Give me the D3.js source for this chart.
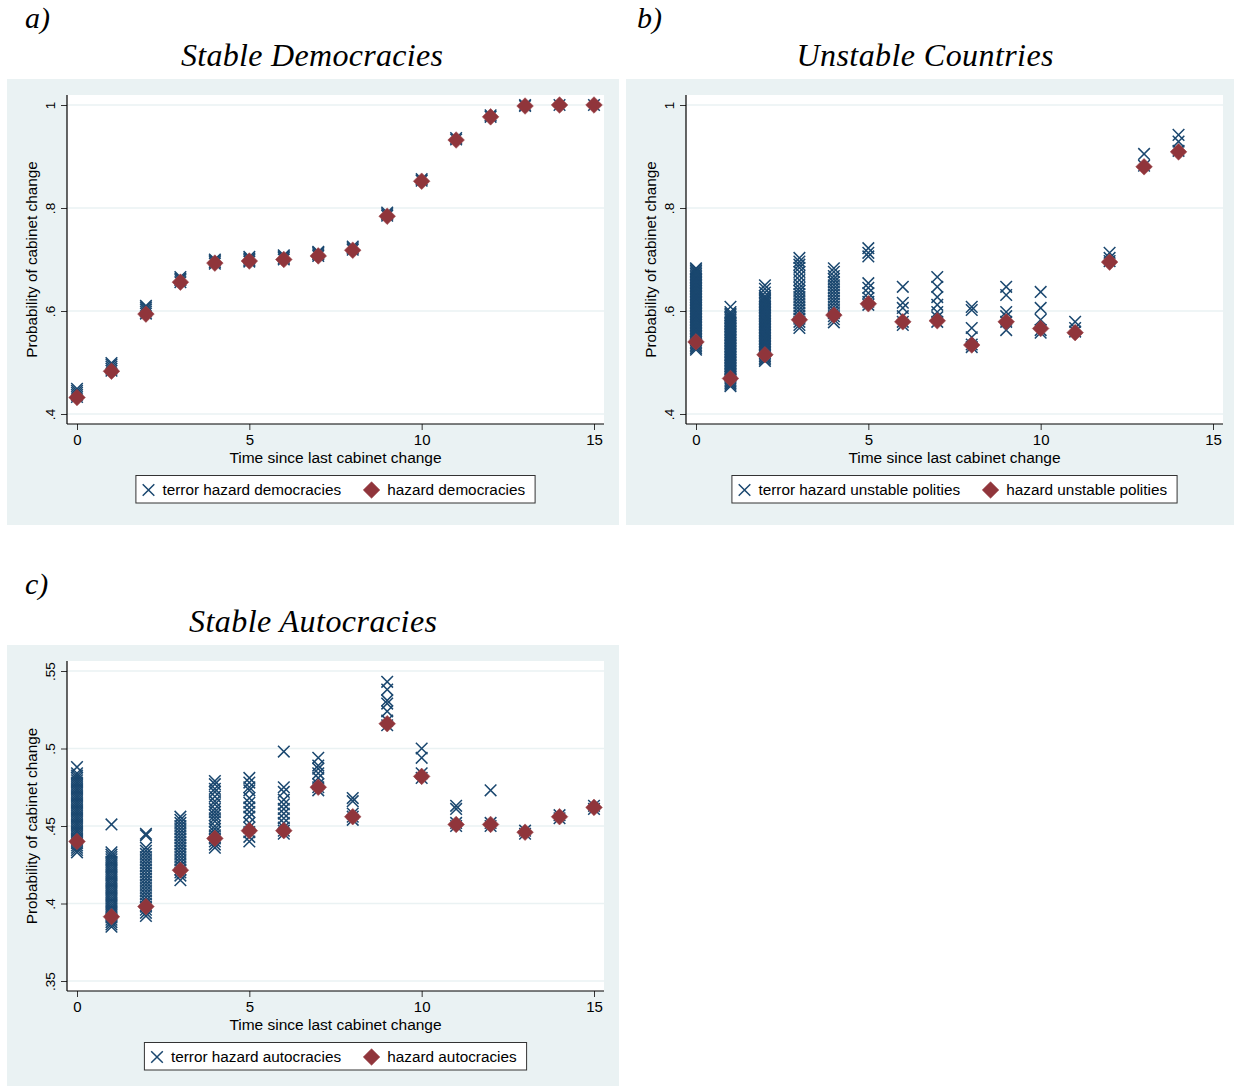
<!DOCTYPE html>
<html><head><meta charset="utf-8">
<script src="https://cdn.jsdelivr.net/npm/d3@7"></script>
<style>
body{margin:0;background:#fff}
svg{display:block}
text{font-family:"Liberation Sans",Arial,sans-serif}
</style>
</head><body>
<svg id="chart" width="1234" height="1086"></svg>
<script>
// ---------------- DATA ----------------
const times = [0,1,2,3,4,5,6,7,8,9,10,11,12,13,14,15];
const xTickValues = [0,5,10,15];
const yTicksAB = [0.4,0.6,0.8,1];
const yTicksC = [0.35,0.4,0.45,0.5,0.55];
const xAxisTitle = "Time since last cabinet change";
const yAxisTitle = "Probability of cabinet change";

// a) Stable democracies
const hazardDem = [0.432,0.483,0.594,0.656,0.693,0.697,0.700,0.707,0.718,0.784,0.852,0.932,0.977,0.998,1.0,1.0];
const terrorDem = [
  [0.433,0.437,0.441,0.445,0.449],
  [0.484,0.488,0.492,0.496,0.499],
  [0.595,0.599,0.603,0.607,0.610],
  [0.656,0.660,0.663,0.666],
  [0.692,0.695,0.698,0.700],
  [0.696,0.699,0.702,0.705],
  [0.700,0.703,0.706,0.708],
  [0.707,0.710,0.713,0.715],
  [0.719,0.722,0.725],
  [0.785,0.788,0.791],
  [0.853,0.856],
  [0.933,0.936],
  [0.977,0.980],
  [0.998,1.0],
  [1.0],
  [1.0]
];

// b) Unstable countries (times 0..14)
const hazardUnstable = [0.540,0.469,0.515,0.583,0.592,0.614,0.579,0.581,0.534,0.579,0.566,0.558,0.695,0.880,0.909];
const terrorUnstable = [
  [0.525,0.528,0.531,0.534,0.537,0.540,0.543,0.546,0.549,0.552,0.555,0.558,0.561,0.564,0.567,0.570,0.573,0.576,0.579,0.582,0.585,0.588,0.591,0.594,0.597,0.600,0.603,0.606,0.609,0.612,0.615,0.618,0.621,0.624,0.627,0.630,0.633,0.636,0.639,0.642,0.645,0.648,0.651,0.654,0.657,0.660,0.663,0.666,0.669,0.672,0.675,0.678,0.681,0.683],
  [0.454,0.457,0.460,0.463,0.466,0.469,0.472,0.475,0.478,0.481,0.484,0.487,0.490,0.493,0.496,0.499,0.502,0.505,0.508,0.511,0.514,0.517,0.520,0.523,0.526,0.529,0.532,0.535,0.538,0.541,0.544,0.547,0.550,0.553,0.556,0.559,0.562,0.565,0.568,0.571,0.574,0.577,0.580,0.583,0.586,0.589,0.592,0.595,0.598,0.608],
  [0.503,0.506,0.509,0.512,0.515,0.518,0.521,0.524,0.527,0.530,0.533,0.536,0.539,0.542,0.545,0.548,0.551,0.554,0.557,0.560,0.563,0.566,0.569,0.572,0.575,0.578,0.581,0.584,0.587,0.590,0.593,0.596,0.599,0.602,0.605,0.608,0.611,0.614,0.617,0.620,0.623,0.626,0.629,0.636,0.643,0.650],
  [0.567,0.573,0.579,0.585,0.591,0.597,0.603,0.609,0.615,0.621,0.627,0.633,0.639,0.645,0.652,0.660,0.668,0.676,0.684,0.690,0.696,0.703],
  [0.578,0.584,0.590,0.596,0.602,0.608,0.614,0.620,0.626,0.632,0.638,0.644,0.650,0.656,0.662,0.668,0.676,0.683],
  [0.722,0.713,0.706,0.654,0.645,0.635,0.625,0.618,0.612],
  [0.647,0.616,0.606,0.590,0.579,0.573],
  [0.666,0.647,0.627,0.612,0.598,0.588,0.579],
  [0.608,0.602,0.567,0.549,0.535,0.530],
  [0.647,0.631,0.598,0.590,0.579,0.563],
  [0.637,0.606,0.583,0.563,0.558],
  [0.579,0.567,0.560],
  [0.713,0.703,0.697],
  [0.905,0.882],
  [0.942,0.929,0.911]
];

// c) Stable autocracies
const hazardAuto = [0.440,0.3915,0.398,0.4215,0.442,0.447,0.447,0.475,0.456,0.516,0.482,0.451,0.451,0.446,0.456,0.462];
const terrorAuto = [
  [0.433,0.4345,0.436,0.4375,0.439,0.4405,0.442,0.4435,0.445,0.4465,0.448,0.4495,0.451,0.4525,0.454,0.4555,0.457,0.4585,0.460,0.4615,0.463,0.4645,0.466,0.4675,0.469,0.4705,0.472,0.4735,0.475,0.4765,0.478,0.4795,0.481,0.4825,0.484,0.488],
  [0.451,0.433,0.4315,0.430,0.4285,0.427,0.4255,0.424,0.4225,0.421,0.4195,0.418,0.4165,0.415,0.4135,0.412,0.4105,0.409,0.4075,0.406,0.4045,0.403,0.4015,0.400,0.3985,0.397,0.3955,0.394,0.3925,0.391,0.3895,0.388,0.3865,0.385],
  [0.445,0.444,0.436,0.434,0.432,0.430,0.428,0.426,0.424,0.422,0.420,0.418,0.416,0.414,0.412,0.410,0.408,0.406,0.404,0.402,0.400,0.398,0.396,0.394,0.392],
  [0.456,0.454,0.452,0.450,0.448,0.446,0.444,0.442,0.440,0.438,0.436,0.434,0.432,0.430,0.428,0.426,0.424,0.422,0.420,0.418,0.415],
  [0.479,0.477,0.474,0.472,0.469,0.466,0.464,0.461,0.459,0.457,0.455,0.453,0.450,0.448,0.446,0.444,0.442,0.440,0.438,0.436],
  [0.481,0.478,0.475,0.473,0.468,0.465,0.462,0.459,0.456,0.452,0.449,0.446,0.443,0.440],
  [0.498,0.475,0.472,0.467,0.464,0.461,0.458,0.455,0.452,0.449,0.447,0.445],
  [0.494,0.489,0.487,0.484,0.481,0.477,0.475,0.473],
  [0.468,0.466,0.458,0.456,0.454],
  [0.543,0.538,0.531,0.529,0.524,0.518,0.515],
  [0.500,0.494,0.484,0.481],
  [0.463,0.461,0.452,0.450],
  [0.473,0.452,0.450],
  [0.447,0.445],
  [0.457,0.455],
  [0.463,0.461]
];

const panelLetters = ["a)","b)","c)"];
const panelTitles = ["Stable Democracies","Unstable Countries","Stable Autocracies"];
const legendTerror = ["terror hazard democracies","terror hazard unstable polities","terror hazard autocracies"];
const legendHazard = ["hazard democracies","hazard unstable polities","hazard autocracies"];

// ---------------- STYLE / LAYOUT ----------------
const BG = "#eaf2f3";
const NAVY = "#1a476f";
const MAROON = "#90353b";
const svg = d3.select("#chart");
svg.append("rect").attr("width",1234).attr("height",1086).attr("fill","#fff");

const panels = [
  {letter:panelLetters[0], title:panelTitles[0], titleLen:262, letterX:25, letterY:28, titleX:312, titleY:66,
   bg:[7,79,612,446], left:67, right:604, top:95, bottom:424, yDomain:[0.4,1], yTicks:yTicksAB,
   hazard:hazardDem, terror:terrorDem, legT:legendTerror[0], legH:legendHazard[0]},
  {letter:panelLetters[1], title:panelTitles[1], titleLen:257, letterX:637, letterY:28, titleX:925, titleY:66,
   bg:[626,79,608,446], left:686, right:1223, top:95, bottom:424, yDomain:[0.4,1], yTicks:yTicksAB,
   hazard:hazardUnstable, terror:terrorUnstable, legT:legendTerror[1], legH:legendHazard[1]},
  {letter:panelLetters[2], title:panelTitles[2], titleLen:248, letterX:25, letterY:594, titleX:313, titleY:632,
   bg:[7,645,612,441], left:67, right:604, top:661, bottom:991, yDomain:[0.35,0.55], yTicks:yTicksC,
   hazard:hazardAuto, terror:terrorAuto, legT:legendTerror[2], legH:legendHazard[2]}
];

const fmt = d => d3.format(".2~f")(d).replace(/^0/,"");

function xMark(g, cx, cy, r){
  g.append("path").attr("d",`M${cx-r},${cy-r}L${cx+r},${cy+r}M${cx-r},${cy+r}L${cx+r},${cy-r}`)
    .attr("stroke",NAVY).attr("stroke-width",1.5).attr("fill","none");
}
function diamond(g, cx, cy, r){
  g.append("path").attr("d",`M${cx},${cy-r}L${cx+r},${cy}L${cx},${cy+r}L${cx-r},${cy}Z`)
    .attr("fill",MAROON).attr("stroke","#9c4449").attr("stroke-width",0.6);
}

panels.forEach(p=>{
  const g = svg.append("g");
  // titles
  g.append("text").attr("x",p.letterX).attr("y",p.letterY).text(p.letter)
    .style("font-family","'Liberation Serif','DejaVu Serif',serif").style("font-style","italic").style("font-size","30px");
  g.append("text").attr("x",p.titleX).attr("y",p.titleY).attr("text-anchor","middle")
    .attr("textLength",p.titleLen).attr("lengthAdjust","spacing").text(p.title)
    .style("font-family","'Liberation Serif','DejaVu Serif',serif").style("font-style","italic").style("font-size","32px");
  // backgrounds
  g.append("rect").attr("x",p.bg[0]).attr("y",p.bg[1]).attr("width",p.bg[2]).attr("height",p.bg[3]).attr("fill",BG);
  g.append("rect").attr("x",p.left).attr("y",p.top).attr("width",p.right-p.left).attr("height",p.bottom-p.top).attr("fill","#fff");

  const x = d3.scaleLinear().domain([0,15]).range([p.left+10, p.right-10]);
  const y = d3.scaleLinear().domain(p.yDomain).range([p.bottom-10, p.top+10]);

  // grid
  g.append("g").selectAll("line").data(p.yTicks).join("line")
    .attr("x1",p.left).attr("x2",p.right).attr("y1",d=>y(d)).attr("y2",d=>y(d))
    .attr("stroke",BG).attr("stroke-width",1.5);

  // axes
  const ya = g.append("g").attr("transform",`translate(${p.left},0)`)
    .call(d3.axisLeft(y).tickValues(p.yTicks).tickSize(6).tickSizeOuter(0).tickFormat(fmt));
  ya.select(".domain").remove();
  ya.selectAll(".tick line").attr("stroke","#333");
  ya.selectAll(".tick text").attr("transform","rotate(-90)").attr("x",0).attr("y",-12).attr("dy",0)
    .attr("text-anchor","middle").style("font-size","13.5px").attr("fill","#000");

  const xa = g.append("g").attr("transform",`translate(0,${p.bottom})`)
    .call(d3.axisBottom(x).tickValues(xTickValues).tickSize(6).tickSizeOuter(0));
  xa.select(".domain").remove();
  xa.selectAll(".tick line").attr("stroke","#333");
  xa.selectAll(".tick text").attr("y",21).attr("dy",0).style("font-size","15px").attr("fill","#000");

  g.append("line").attr("x1",p.left).attr("x2",p.left).attr("y1",p.top).attr("y2",p.bottom).attr("stroke","#000").attr("stroke-width",1.2);
  g.append("line").attr("x1",p.left).attr("x2",p.right).attr("y1",p.bottom).attr("y2",p.bottom).attr("stroke","#000").attr("stroke-width",1.2);

  // axis titles
  const cxPlot = (p.left+p.right)/2, cyPlot = (p.top+p.bottom)/2;
  g.append("text").attr("x",cxPlot).attr("y",p.bottom+38.5).attr("text-anchor","middle")
    .style("font-size","15.5px").text(xAxisTitle);
  g.append("text").attr("transform",`translate(${p.left-30.5},${cyPlot}) rotate(-90)`).attr("text-anchor","middle")
    .style("font-size","15.3px").text(yAxisTitle);

  // markers
  const mg = g.append("g");
  p.terror.forEach((vals,i)=>{
    vals.forEach(v=> xMark(mg, x(times[i]), y(v), 5.8));
  });
  p.hazard.forEach((v,i)=> diamond(mg, x(times[i]), y(v), 8.3));

  // legend
  const lg = g.append("g");
  const ty = p.bottom+71;
  const t1 = lg.append("text").attr("y",ty).style("font-size","15.3px").text(p.legT);
  const t2 = lg.append("text").attr("y",ty).style("font-size","15.3px").text(p.legH);
  const w1 = t1.node().getComputedTextLength(), w2 = t2.node().getComputedTextLength();
  const W = 12.6+14+w1+30.5+15.8+w2+10;
  const bx = cxPlot - W/2;
  lg.insert("rect","text").attr("x",bx).attr("y",p.bottom+51.5).attr("width",W).attr("height",27.5)
    .attr("fill","#fff").attr("stroke","#333").attr("stroke-width",1);
  xMark(lg, bx+12.6, ty-5, 5.8);
  t1.attr("x",bx+12.6+14);
  const dx = bx+12.6+14+w1+30.5;
  diamond(lg, dx, ty-5, 8.3);
  t2.attr("x",dx+15.8);
});
</script>
</body></html>
